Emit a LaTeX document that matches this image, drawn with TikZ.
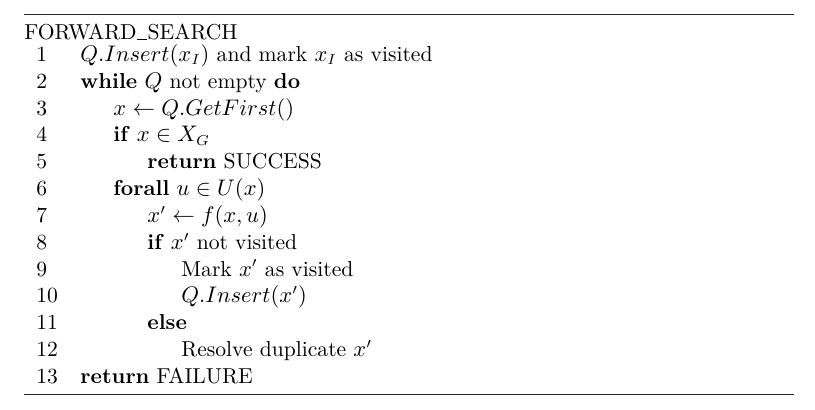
\documentclass[tikz,border=0pt]{standalone}
\begin{document}
\begin{tikzpicture}[x=0.486pt,y=-0.486pt,
  ln/.style={anchor=base west,inner sep=0pt,font=\fontsize{10.5pt}{12.6pt}\selectfont},
  rulel/.style={line width=0.75pt,draw=black!85}]
\useasboundingbox (0,0) rectangle (815,410);
\coordinate (tl) at (24,14.5);
\coordinate (tr) at (794,14.5);
\coordinate (bl) at (24,394.5);
\coordinate (br) at (794,394.5);
\draw[rulel] (tl) -- (tr);
\draw[rulel] (bl) -- (br);
\node[ln] (title) at (24,40) {FORWARD\kern0.3pt\rule{0.45em}{0.4pt}\kern0.3pt SEARCH};
\def\by#1{61.5+(#1-1)*26.82}
\foreach \i in {1,...,13} {\node[ln] (n\i) at (36,{\by{\i}}) {\i};}
\node[ln] (l1) at (80,{\by{1}}) {$Q.Insert(x_I)$ and mark $x_I$ as visited};
\node[ln] (l2) at (80,{\by{2}}) {\textbf{while} $Q$ not empty \textbf{do}};
\node[ln] (l3) at (113,{\by{3}}) {$x \leftarrow Q.GetFirst()$};
\node[ln] (l4) at (113,{\by{4}}) {\textbf{if} $x \in X_G$};
\node[ln] (l5) at (147,{\by{5}}) {\textbf{return} SUCCESS};
\node[ln] (l6) at (113,{\by{6}}) {\textbf{forall} $u \in U(x)$};
\node[ln] (l7) at (147,{\by{7}}) {$x' \leftarrow f(x,u)$};
\node[ln] (l8) at (147,{\by{8}}) {\textbf{if} $x'$ not visited};
\node[ln] (l9) at (181,{\by{9}}) {Mark $x'$ as visited};
\node[ln] (l10) at (181,{\by{10}}) {$Q.Insert(x')$};
\node[ln] (l11) at (147,{\by{11}}) {\textbf{else}};
\node[ln] (l12) at (181,{\by{12}}) {Resolve duplicate $x'$};
\node[ln] (l13) at (80,{\by{13}}) {\textbf{return} FAILURE};
\end{tikzpicture}
\end{document}
